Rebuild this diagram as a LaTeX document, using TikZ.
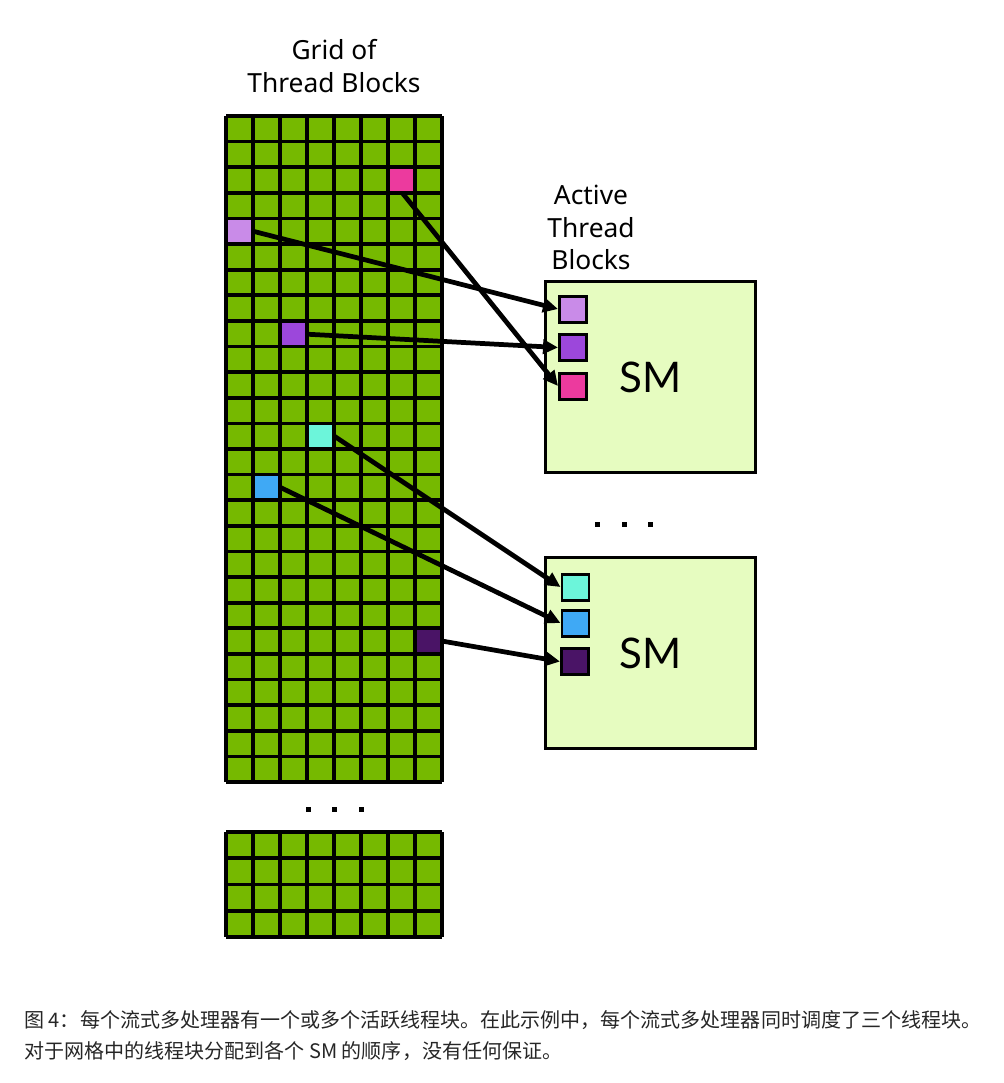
\documentclass[tikz,border=0pt]{standalone}
\usepackage{fontspec}
\setmainfont{Noto Sans}
\newfontfamily\cjk{Noto Sans CJK SC}
\newfontfamily\smfont{Lato}
\usetikzlibrary{arrows.meta}
\definecolor{gridgreen}{RGB}{118,185,0}
\definecolor{smgreen}{RGB}{230,252,192}
\definecolor{blkpink}{RGB}{236,58,158}
\definecolor{blklilac}{RGB}{201,139,232}
\definecolor{blkpurple}{RGB}{156,71,219}
\definecolor{blkcyan}{RGB}{108,245,218}
\definecolor{blkblue}{RGB}{63,169,245}
\definecolor{blkdark}{RGB}{74,20,102}

\begin{document}
\begin{tikzpicture}[
    x=0.02cm, y=-0.02cm,
    gridline/.style={
        line width=2.1pt,
        black
    },
    cell/.style={
        minimum width=0.54cm,
        minimum height=0.512cm,
        inner sep=0pt
    },
    smbox/.style={
        draw=black,
        line width=1.7pt,
        fill=smgreen,
        minimum width=4.22cm,
        minimum height=3.84cm,
        font=\smfont\fontsize{24}{24}\selectfont
    },
    active/.style={
        draw=black,
        line width=1.7pt,
        minimum width=0.54cm,
        minimum height=0.52cm,
        inner sep=0pt
    },
    arr/.style={
        -{Triangle[length=3mm,width=2.8mm]},
        line width=2.7pt
    },
    title/.style={
        align=center,
        font=\fontsize{15}{18.6}\selectfont
    },
    dot/.style={
        fill=black,
        minimum size=0.1cm,
        inner sep=0pt
    }
]
\useasboundingbox (0,0) rectangle (1004,1083);

% ============================================================
% Grid of thread blocks
% ============================================================

\node[title] (gridtitle) at (334,66)
{Grid of\\Thread Blocks};

\fill[gridgreen] (226,116) rectangle (442,782);

\node[cell, fill=blkpink] (gpink) at (402.5,180.0) {};
\node[cell, fill=blklilac] (glilac) at (239.5,231.3) {};
\node[cell, fill=blkpurple] (gpurple) at (293.5,334.2) {};
\node[cell, fill=blkcyan] (gcyan) at (320.5,436.2) {};
\node[cell, fill=blkblue] (gblue) at (266.5,487.4) {};
\node[cell, fill=blkdark] (gdark) at (428.5,641.1) {};

\foreach \c in {0,...,8}
    \draw[gridline] ({226+27*\c},116) -- ({226+27*\c},782);
\foreach \r in {0,...,26}
    \draw[gridline] (226,{116+25.615*\r}) -- (442,{116+25.615*\r});

\node[dot] (gdot1) at (308,809) {};
\node[dot] (gdot2) at (334.5,809) {};
\node[dot] (gdot3) at (361,809) {};

\fill[gridgreen] (226,832) rectangle (442,937);
\foreach \c in {0,...,8}
    \draw[gridline] ({226+27*\c},832) -- ({226+27*\c},937);
\foreach \r in {0,...,4}
    \draw[gridline] (226,{832+26.25*\r}) -- (442,{832+26.25*\r});

% ============================================================
% Streaming multiprocessors
% ============================================================

\node[title] (acttitle) at (591,227.5)
{Active\\Thread\\Blocks};

\node[smbox] (smtop) at (650.5,377) {SM};
\node[smbox] (smbot) at (650.5,653) {SM};

\node[active, fill=blklilac] (slilac) at (573,309) {};
\node[active, fill=blkpurple] (spurple) at (573,347.5) {};
\node[active, fill=blkpink] (spink) at (573,386) {};

\node[active, fill=blkcyan] (scyan) at (575.5,587) {};
\node[active, fill=blkblue] (sblue) at (575.5,623) {};
\node[active, fill=blkdark] (sdark) at (575,661.5) {};

\node[dot] (sdot1) at (597.5,524) {};
\node[dot] (sdot2) at (624,524) {};
\node[dot] (sdot3) at (650,524) {};

% ============================================================
% Scheduling arrows
% ============================================================

\draw[arr] (glilac.east) -- (slilac.west);
\draw[arr] (gpurple.east) -- (spurple.west);
\draw[arr] (gpink.south) -- (spink.west);
\draw[arr] (gcyan.east) -- (scyan.west);
\draw[arr] (gblue.east) -- (sblue.west);
\draw[arr] (gdark.east) -- (sdark.west);

% ============================================================
% Caption
% ============================================================

\node[anchor=west, inner sep=0pt, text=black!85, font=\cjk\fontsize{11.4}{11.4}\selectfont] (cap1) at (24,1020)
{图 4：每个流式多处理器有一个或多个活跃线程块。在此示例中，每个流式多处理器同时调度了三个线程块。};
\node[anchor=west, inner sep=0pt, text=black!85, font=\cjk\fontsize{11.4}{11.4}\selectfont] (cap2) at (24,1051)
{对于网格中的线程块分配到各个 SM 的顺序，没有任何保证。};

\end{tikzpicture}
\end{document}
